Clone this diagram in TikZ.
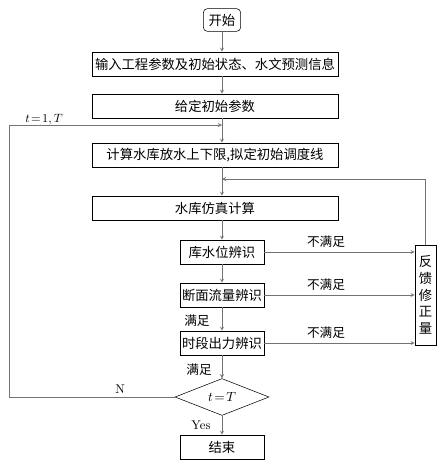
\documentclass[tikz,border=0pt]{standalone}
\usepackage{fontspec}
\newfontfamily\cjk{Noto Sans CJK SC}
\usetikzlibrary{positioning,shapes,arrows,calc}

\begin{document}
\begin{tikzpicture}[
  x=0.75pt, y=-0.75pt,
  wide/.style={draw, minimum width=184.5pt, minimum height=18pt, inner sep=1pt,
               font=\cjk\fontsize{10}{12}\selectfont},
  small/.style={draw, minimum width=63pt, minimum height=18pt, inner sep=1pt,
                font=\cjk\fontsize{10}{12}\selectfont},
  lbl/.style={font=\cjk\fontsize{9.5}{11}\selectfont, inner sep=1pt},
  arr/.style={->, draw=black!55, >=stealth}
]
  \useasboundingbox (0,0) rectangle (448,462);
  \node[draw, rounded corners=3pt, minimum width=28pt, minimum height=17pt, inner sep=1pt,
        font=\cjk\fontsize{10}{12}\selectfont] (start) at (222,20) {开始};
  \node[wide] (input) at (215,64)  {输入工程参数及初始状态、水文预测信息};
  \node[wide] (init)  at (215,106) {给定初始参数};
  \node[wide] (limit) at (215,155) {计算水库放水上下限,拟定初始调度线};
  \node[wide] (sim)   at (215,208) {水库仿真计算};
  \node[small] (lvl)  at (222,252) {库水位辨识};
  \node[small] (flow) at (222,295) {断面流量辨识};
  \node[small] (pow)  at (222,343) {时段出力辨识};
  \node[draw, diamond, minimum width=70.5pt, minimum height=24pt, inner sep=0pt] (dec) at (222,397) {$t\!=\!T$};
  \node[small] (stop) at (222,447) {结束};
  \node[draw, minimum width=15.75pt, minimum height=75pt, inner sep=1pt, align=center,
        font=\cjk\fontsize{10}{12.5}\selectfont] (fb) at (425.5,295) {反\\馈\\修\\正\\量};
  \coordinate (join1) at (222,125);
  \coordinate (join2) at (222,179);
  % main flow
  \draw[arr] (start) -- (start |- input.north);
  \draw[arr] (start |- input.south) -- (start |- init.north);
  \draw[arr] (start |- init.south)  -- (start |- limit.north);
  \draw[arr] (start |- limit.south) -- (start |- sim.north);
  \draw[arr] (start |- sim.south)   -- (lvl);
  \draw[arr] (lvl)   -- (flow);
  \draw[arr] (flow)  -- (pow);
  \draw[arr] (pow)   -- (dec);
  \draw[arr] (dec)   -- (stop);
  % loop back and feedback
  \draw[arr] (dec.west) -- ++(-165,0) |- (join1);
  \draw[arr] (fb.north) |- (join2);
  \draw[arr] (lvl)  -- (lvl -| fb.west);
  \draw[arr] (flow) -- (flow -| fb.west);
  \draw[arr] (pow)  -- (pow -| fb.west);
  % labels
  \node[lbl] (l1) at (326,242) {不满足};
  \node[lbl] (l2) at (326,285) {不满足};
  \node[lbl] (l3) at (326,333) {不满足};
  \node[lbl] (ok1) at (197,321) {满足};
  \node[lbl] (ok2) at (199,370) {满足};
  \node[inner sep=1pt, font=\fontsize{9.5}{11}\selectfont] (yes) at (201,425) {Yes};
  \node[inner sep=1pt, font=\fontsize{9.5}{11}\selectfont] (no)  at (120,389) {N};
  \node[inner sep=1pt, font=\fontsize{9.5}{11}\selectfont] (tt)  at (44,120) {$t\!=\!1,T$};
\end{tikzpicture}
\end{document}
